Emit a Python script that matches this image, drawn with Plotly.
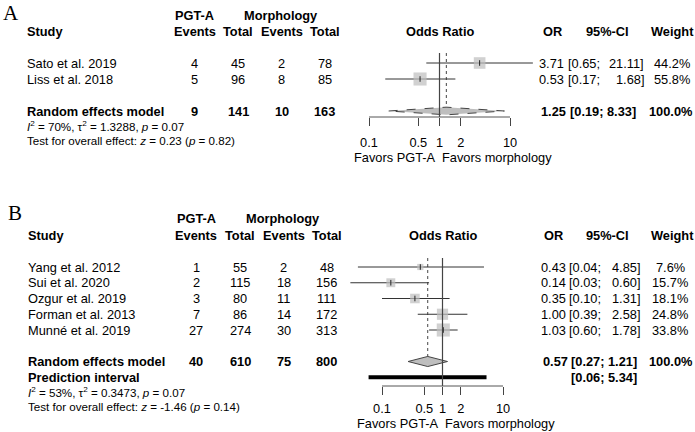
import plotly.graph_objects as go
import math

W, H = 695, 432

# ---------------- data: panel A ----------------
A_studies = ["Sato et al. 2019", "Liss et al. 2018"]
A_ev_pgta = [4, 5]
A_tot_pgta = [45, 96]
A_ev_morph = [2, 8]
A_tot_morph = [78, 85]
A_or = [3.71, 0.53]
A_lo = [0.65, 0.17]
A_hi = [21.11, 1.68]
A_weight = [44.2, 55.8]
A_pooled = dict(ev1=9, n1=141, ev2=10, n2=163, est=1.25, lo=0.19, hi=8.33, w=100.0)
A_het = "<i>I</i><sup>2</sup> = 70%, τ<sup>2</sup> = 1.3288, <i>p</i> = 0.07"
A_test = "Test for overall effect: <i>z</i> = 0.23 (<i>p</i> = 0.82)"

# ---------------- data: panel B ----------------
B_studies = ["Yang et al. 2012", "Sui et al. 2020", "Ozgur et al. 2019",
             "Forman et al. 2013", "Munné et al. 2019"]
B_ev_pgta = [1, 2, 3, 7, 27]
B_tot_pgta = [55, 115, 80, 86, 274]
B_ev_morph = [2, 18, 11, 14, 30]
B_tot_morph = [48, 156, 111, 172, 313]
B_or = [0.43, 0.14, 0.35, 1.00, 1.03]
B_lo = [0.04, 0.03, 0.10, 0.39, 0.60]
B_hi = [4.85, 0.60, 1.31, 2.58, 1.78]
B_weight = [7.6, 15.7, 18.1, 24.8, 33.8]
B_pooled = dict(ev1=40, n1=610, ev2=75, n2=800, est=0.57, lo=0.27, hi=1.21, w=100.0)
B_pred = (0.06, 5.34)
B_het = "<i>I</i><sup>2</sup> = 53%, τ<sup>2</sup> = 0.3473, <i>p</i> = 0.07"
B_test = "Test for overall effect: <i>z</i> = -1.46 (<i>p</i> = 0.14)"

tick_vals = [0.1, 0.5, 1, 2, 10]
tick_text = ["0.1", "0.5", "1", "2", "10"]

FONT = "Liberation Sans, Arial, sans-serif"
FS = 12.8
SQ = "#bebebe"
fig = go.Figure()
ann = []


def px2paper_x(p):
    return p / W


def add_text(x, y, text, yref, xanchor="left", bold=False, size=FS, xref="paper"):
    if bold:
        text = "<b>" + text + "</b>"
    ann.append(dict(x=x, y=y, xref=xref, yref=yref, text=text, showarrow=False,
                    xanchor=xanchor, yanchor="middle", borderpad=0,
                    font=dict(family=FONT, size=size, color="black")))


def panel(cfg):
    xa, ya = cfg["xa"], cfg["ya"]
    yref = ya
    n = len(cfg["studies"])
    rows = list(range(1, n + 1))
    prow = n + 2
    top, axrow = cfg["top_row"], cfg["axis_row"]

    # dotted line at pooled estimate
    fig.add_trace(go.Scatter(x=[cfg["pooled"]["est"]] * 2, y=[top, prow], mode="lines",
                             line=dict(color="#444", width=1, dash="dot"),
                             xaxis=xa, yaxis=ya, hoverinfo="skip"))
    # CIs
    for r, lo, hi in zip(rows, cfg["lo"], cfg["hi"]):
        fig.add_trace(go.Scatter(x=[lo, hi], y=[r, r], mode="lines",
                                 line=dict(color="#333", width=1),
                                 xaxis=xa, yaxis=ya, hoverinfo="skip"))
    # squares
    fig.add_trace(go.Scatter(x=cfg["or"], y=rows, mode="markers",
                             marker=dict(symbol="square", color=SQ,
                                         size=[cfg["k"] * math.sqrt(w) for w in cfg["w"]],
                                         line=dict(width=0)),
                             xaxis=xa, yaxis=ya, hoverinfo="skip"))
    fig.add_trace(go.Scatter(x=cfg["or"], y=rows, mode="markers",
                             marker=dict(symbol="line-ns", size=4,
                                         line=dict(color="#222", width=1)),
                             xaxis=xa, yaxis=ya, hoverinfo="skip"))
    # prediction interval
    if cfg.get("pred"):
        fig.add_trace(go.Scatter(x=list(cfg["pred"]), y=[prow + 1] * 2, mode="lines",
                                 line=dict(color="black", width=4),
                                 xaxis=xa, yaxis=ya, hoverinfo="skip"))
    # diamond
    p = cfg["pooled"]
    h = cfg["dh"]
    fig.add_trace(go.Scatter(x=[p["lo"], p["est"], p["hi"], p["est"], p["lo"]],
                             y=[prow, prow - h, prow, prow + h, prow],
                             mode="lines", fill="toself", fillcolor=SQ,
                             line=dict(color="#444", width=1, dash=cfg["ddash"]),
                             xaxis=xa, yaxis=ya, hoverinfo="skip"))
    # line at 1
    fig.add_trace(go.Scatter(x=[1, 1], y=[top, axrow], mode="lines",
                             line=dict(color="#444", width=1.2),
                             xaxis=xa, yaxis=ya, hoverinfo="skip"))
    # axis line
    fig.add_trace(go.Scatter(x=[tick_vals[0], tick_vals[-1]], y=[axrow, axrow], mode="lines",
                             line=dict(color="#555", width=1),
                             xaxis=xa, yaxis=ya, hoverinfo="skip"))

    # ---- texts ----
    add_text(px2paper_x(cfg["lab_x"]), cfg["lab_row"], cfg["label"], yref, size=21)
    ann[-1]["font"]["family"] = "Liberation Serif, Times New Roman, serif"
    hr1, hr2 = cfg["hdr_rows"]
    cc = cfg["cols"]
    add_text(px2paper_x(cc[0]), hr1, "PGT-A", yref, "center", True)
    add_text(px2paper_x((cc[2] + cc[3]) / 2 - 22), hr1, "Morphology", yref, "center", True)
    add_text(px2paper_x(cfg["name_x"]), hr2, "Study", yref, "left", True)
    for c, t in zip(cc, ["Events", "Total", "Events", "Total"]):
        add_text(px2paper_x(c), hr2, t, yref, "center", True)
    # log axis: annotation x given in log10 units (log10(1) = 0)
    add_text(0, hr2, "Odds Ratio", yref, "center", True, xref=xa)
    add_text(px2paper_x(cfg["or_hdr"]), hr2, "OR", yref, "center", True)
    add_text(px2paper_x(607), hr2, "95%-CI", yref, "center", True)
    add_text(px2paper_x(672), hr2, "Weight", yref, "center", True)

    for i, r in enumerate(rows):
        add_text(px2paper_x(cfg["name_x"]), r, cfg["studies"][i], yref)
        for c, v in zip(cc, [cfg["e1"][i], cfg["n1"][i], cfg["e2"][i], cfg["n2"][i]]):
            add_text(px2paper_x(c), r, str(v), yref, "center")
        add_text(px2paper_x(cfg["or_r"]), r, f"{cfg['or'][i]:.2f}", yref, "right")
        add_text(px2paper_x(cfg["ci_l"]), r, f"[{cfg['lo'][i]:.2f};", yref, "left")
        add_text(px2paper_x(cfg["ci_r"]), r, f"{cfg['hi'][i]:.2f}]", yref, "right")
        add_text(px2paper_x(cfg["w_c"]), r, f"{cfg['w'][i]:.1f}%", yref, "center")

    add_text(px2paper_x(cfg["name_x"]), prow, "Random effects model", yref, "left", True)
    for c, v in zip(cc, [p["ev1"], p["n1"], p["ev2"], p["n2"]]):
        add_text(px2paper_x(c), prow, str(v), yref, "center", True)
    add_text(px2paper_x(cfg["or_r"] + 2), prow, f"{p['est']:.2f}", yref, "right", True)
    add_text(px2paper_x(cfg["ci_l"] + 2), prow, f"[{p['lo']:.2f}; {p['hi']:.2f}]", yref, "left", True)
    add_text(px2paper_x(671), prow, f"{p['w']:.1f}%", yref, "center", True)
    if cfg.get("pred"):
        add_text(px2paper_x(cfg["name_x"]), prow + 1, "Prediction interval", yref, "left", True)
        add_text(px2paper_x(cfg["ci_l"] + 2), prow + 1,
                 f"[{cfg['pred'][0]:.2f}; {cfg['pred'][1]:.2f}]", yref, "left", True)
    add_text(px2paper_x(cfg["name_x"]), cfg["het_row"], cfg["het"], yref, size=11.6)
    add_text(px2paper_x(cfg["name_x"]), cfg["test_row"], cfg["test"], yref, size=11.6)
    add_text(0, cfg["fav_row"], "Favors PGT-A", yref, "right", xref=xa)
    ann[-1]["xshift"] = -3
    add_text(0, cfg["fav_row"], "Favors morphology", yref, "left", xref=xa)
    ann[-1]["xshift"] = 1


panel(dict(xa="x", ya="y", studies=A_studies, e1=A_ev_pgta, n1=A_tot_pgta, e2=A_ev_morph,
           n2=A_tot_morph, **{"or": A_or}, lo=A_lo, hi=A_hi, w=A_weight, pooled=A_pooled,
           het=A_het, test=A_test, k=1.75, dh=0.24, ddash="dash", top_row=0.375, axis_row=4.375,
           label="A", lab_x=2, lab_row=-2.1, hdr_rows=(-1.94, -0.94), cols=[195, 238, 281.5, 324.5],
           name_x=25.5, or_hdr=552, or_r=565, ci_l=567, ci_r=645, w_c=672,
           het_row=4.95, test_row=5.85, fav_row=6.9))

panel(dict(xa="x2", ya="y2", studies=B_studies, e1=B_ev_pgta, n1=B_tot_pgta, e2=B_ev_morph,
           n2=B_tot_morph, **{"or": B_or}, lo=B_lo, hi=B_hi, w=B_weight, pooled=B_pooled,
           pred=B_pred, het=B_het, test=B_test, k=2.25, dh=0.32, ddash="solid",
           top_row=0.43, axis_row=8.556,
           label="B", lab_x=7, lab_row=-2.43, hdr_rows=(-2.05, -1.03), cols=[196, 240, 283.5, 326.5],
           name_x=27, or_hdr=553, or_r=567, ci_l=568, ci_r=641, w_c=670,
           het_row=8.94, test_row=9.85, fav_row=10.95))

axis_common = dict(type="log", showgrid=False, zeroline=False, showline=False,
                   ticks="outside", ticklen=8, tickwidth=1, tickcolor="#444",
                   tickvals=tick_vals, ticktext=tick_text, anchor="free",
                   tickfont=dict(family=FONT, size=FS, color="black"),
                   domain=[345 / W, 560 / W])

fig.update_layout(
    width=W, height=H, margin=dict(l=0, r=0, t=0, b=0),
    paper_bgcolor="white", plot_bgcolor="rgba(0,0,0,0)", showlegend=False,
    font=dict(family=FONT, size=FS, color="black"),
    xaxis=dict(**axis_common, range=[(345 - 439.5) / 70.5, (560 - 439.5) / 70.5],
               position=1 - 117 / H, ticklabelstandoff=6),
    yaxis=dict(visible=False, domain=[1 - 170 / H, 1], range=[7.6875, -2.9375]),
    xaxis2=dict(**axis_common, range=[(345 - 442.5) / 60.5, (560 - 442.5) / 60.5],
                position=1 - 386 / H, ticklabelstandoff=3),
    yaxis2=dict(visible=False, domain=[0, 1 - 190 / H], range=[11.476, -3.889]),
    annotations=ann,
)

fig.write_html("out.html", config={"displayModeBar": False},
               post_script="document.body.style.margin='0';document.body.style.overflow='hidden';")
